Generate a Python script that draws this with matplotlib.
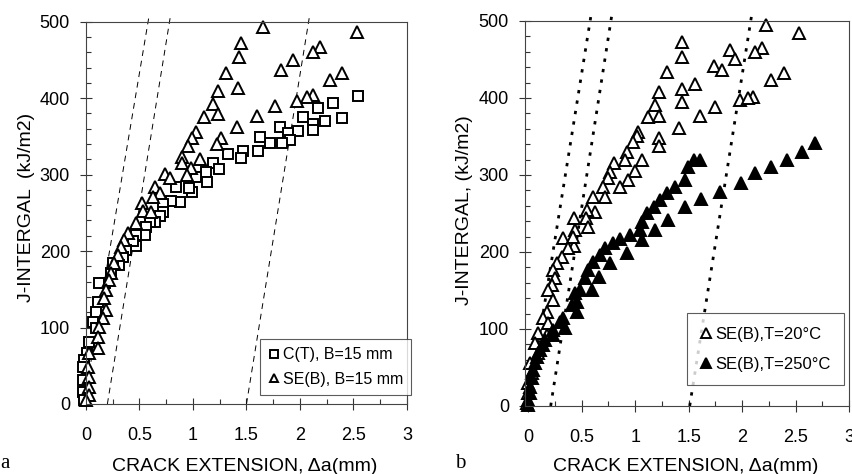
import matplotlib
matplotlib.use("Agg")
import matplotlib.pyplot as plt

plt.rcParams['font.family'] = ['Liberation Sans', 'DejaVu Sans']

# ---- panel a data: C(T) and SE(B), B=15 mm ----
ct_da = [2.547, 2.3125, 2.172, 2.39, 2.031, 2.234, 2.119, 2.119, 1.978, 1.8125,
         1.89, 1.906, 1.828, 1.719, 1.625, 1.609, 1.469, 1.453, 1.328, 1.1875,
         1.244, 1.125, 1.131, 1.031, 0.994, 0.9625, 0.875, 0.797, 0.844, 0.719,
         0.719, 0.6875, 0.644, 0.6, 0.5625, 0.547, 0.469, 0.469, 0.4375, 0.375,
         0.344, 0.3125, 0.25, 0.234, 0.181, 0.125, 0.109, 0.094, 0.0625, 0.094,
         0.031, 0.006, -0.016, -0.031, -0.031, -0.031, -0.016]
ct_j = [402.8, 393.2, 386.6, 373.6, 375.7, 370.5, 366.2, 358.3, 357.4, 362.7,
        354.0, 345.2, 340.9, 340.9, 348.7, 331.3, 331.3, 321.3, 326.9, 314.7,
        306.9, 303.8, 290.7, 297.3, 277.7, 282.0, 263.7, 265.5, 284.2, 261.5,
        251.5, 245.8, 238.4, 238.4, 231.9, 221.0, 221.0, 206.6, 213.6, 201.4,
        192.7, 181.8, 184.0, 170.9, 158.7, 157.8, 133.8, 120.7, 107.7, 99.0,
        81.5, 66.3, 57.5, 48.8, 31.4, 16.1, 5.2]

seb_da = [1.656, 1.447, 1.431, 1.306, 1.425, 1.234, 1.1875, 1.234, 1.1, 1.025,
          0.994, 0.956, 0.9, 0.894, 0.7375, 0.781, 0.644, 0.6875, 0.631, 0.525,
          0.531, 0.609, 0.469, 0.394,
          2.531, 2.1875, 2.125, 1.9375, 1.822, 2.39, 2.281, 2.119, 2.069, 1.975,
          1.766, 1.603, 1.416, 1.266, 1.228, 1.0625, 0.984, 0.947,
          0.359, 0.328, 0.297, 0.266, 0.234, 0.219, 0.1875, 0.172, 0.1875, 0.156,
          0.125, 0.109, 0.116, 0.031, 0.016, 0.031, 0.031, 0.031, 0.0]
seb_j = [493.5, 472.5, 453.3, 432.4, 412.8, 409.7, 392.3, 379.2, 375.7, 356.1,
         347.4, 337.4, 322.6, 314.7, 300.8, 295.1, 283.3, 275.5, 271.1, 262.4,
         252.8, 251.5, 237.1, 223.2,
         486.9, 467.3, 459.9, 449.8, 436.8, 433.3, 423.7, 403.6, 401.0, 396.2,
         389.7, 376.6, 361.8, 347.4, 340.0, 320.0, 308.2, 299.5,
         214.5, 205.7, 194.8, 184.0, 170.9, 162.2, 149.1, 138.2, 122.9, 112.0,
         101.1, 88.1, 72.8, 66.3, 48.8, 35.7, 22.7, 11.8, 5.2]

# ---- panel b data: SE(B) at T=20 and T=250 C ----
t20_da = [2.225, 2.531, 1.4375, 1.4375, 2.1875, 2.125, 1.89, 1.9375, 1.734, 1.8125,
          1.297, 2.39, 2.275, 1.5625, 1.4375, 1.219, 1.4375, 1.1875, 1.984, 2.103,
          2.06, 1.75, 1.603, 1.219, 1.119, 1.406, 1.031, 1.016, 0.984, 1.219,
          1.219, 0.922, 0.906, 0.803, 1.0625, 1.0, 0.766, 0.75, 0.9375, 0.859,
          0.697, 0.719, 0.609, 0.625, 0.547, 0.541, 0.556, 0.428, 0.4375, 0.328,
          0.428, 0.416, 0.375, 0.3125, 0.266, 0.234, 0.25, 0.219, 0.1875, 0.234,
          0.172, 0.14, 0.1875, 0.094, 0.172, 0.0625, 0.094, 0.016, 0.031, 0.0,
          0.0, -0.016]
t20_j = [494.8, 484.8, 473.0, 452.8, 465.4, 460.2, 462.3, 450.2, 441.6, 436.4,
         434.2, 432.9, 423.4, 417.7, 411.3, 408.2, 395.2, 390.9, 397.4, 401.7,
         399.6, 387.9, 376.6, 376.6, 374.9, 360.6, 356.3, 350.6, 343.3, 347.6,
         337.7, 330.3, 319.5, 315.2, 319.5, 305.6, 304.3, 295.7, 293.5, 284.9,
         284.9, 271.9, 271.9, 252.4, 254.5, 243.7, 232.9, 243.7, 228.6, 217.7,
         207.8, 219.9, 204.8, 193.9, 185.3, 176.6, 165.8, 157.1, 150.6, 137.7,
         122.5, 113.9, 107.4, 94.4, 92.2, 81.4, 68.4, 55.4, 42.4, 29.4,
         16.5, 3.5]

t250_da = [2.678, 2.5625, 2.422, 2.266, 2.125, 1.99, 1.797, 1.619, 1.609, 1.547,
           1.494, 1.4625, 1.469, 1.375, 1.297, 1.303, 1.234, 1.172, 1.1875, 1.109,
           1.0625, 1.047, 1.0625, 0.953, 0.922, 0.859, 0.79, 0.766, 0.719, 0.672,
           0.666, 0.609, 0.5625, 0.594, 0.531, 0.484, 0.453, 0.4375, 0.406, 0.453,
           0.328, 0.297, 0.344, 0.234, 0.234, 0.156, 0.14, 0.109, 0.078, 0.0625,
           0.047, 0.031, 0.016, 0.016, 0.0, 0.0]
t250_j = [341.1, 330.3, 319.5, 310.8, 302.2, 289.2, 278.4, 268.8, 319.5, 319.5,
          310.8, 293.5, 258.9, 284.9, 277.1, 241.6, 267.5, 258.9, 228.6, 250.2,
          239.4, 228.6, 215.6, 222.1, 198.3, 216.5, 211.3, 185.3, 204.8, 196.1,
          168.0, 187.4, 176.6, 150.6, 165.8, 150.6, 135.5, 146.3, 131.2, 122.5,
          113.9, 109.5, 100.9, 98.7, 92.2, 85.7, 79.2, 72.7, 64.1, 55.4,
          46.8, 35.9, 25.1, 16.5, 7.8, 1.3]

# construction lines (blunting line and exclusion lines)
line_j = [0, 508]
a_lines_da = [[-0.02, 0.59], [0.2, 0.79], [1.5, 2.09]]
b_lines_da = [[0.0, 0.588], [0.21, 0.782], [1.51, 2.09]]

fig = plt.figure(figsize=(8.53, 4.74), dpi=100)
ax_a = fig.add_axes([0.1008, 0.1477, 0.3763, 0.8065])
ax_b = fig.add_axes([0.6155, 0.1435, 0.3798, 0.8122])


def style_axes(ax, xmin):
    ax.set_xlim(xmin, 3)
    ax.set_ylim(0, 500)
    ax.set_xticks([0, 0.5, 1, 1.5, 2, 2.5, 3])
    ax.set_xticklabels(['0', '0.5', '1', '1.5', '2', '2.5', '3'])
    ax.set_xticks([0.25, 0.75, 1.25, 1.75, 2.25, 2.75], minor=True)
    ax.set_yticks([0, 100, 200, 300, 400, 500])
    ax.set_yticks([v for v in range(20, 500, 20) if v % 100], minor=True)
    ax.tick_params(which='major', direction='inout', length=9, width=0.8,
                   color='#333333', labelsize=13)
    ax.tick_params(axis='x', which='major', pad=12)
    ax.tick_params(axis='y', which='major', pad=7)
    ax.tick_params(which='minor', direction='in', length=3.5, width=0.8,
                   color='#333333')
    for s in ax.spines.values():
        s.set_linewidth(0.8)
        s.set_color('#444444')


# ---- panel a ----
for xs in a_lines_da:
    ax_a.plot(xs, line_j, color='black', lw=0.7, ls=(0, (6, 5)), clip_on=False)
ax_a.plot(ct_da, ct_j, ls='none', marker='s', ms=7.6, mfc='white', mec='black',
          mew=1.4, clip_on=False, label='C(T), B=15 mm')
ax_a.plot(seb_da, seb_j, ls='none', marker='^', ms=8.5, mfc='white', mec='black',
          mew=1.4, clip_on=False, label='SE(B), B=15 mm')
style_axes(ax_a, 0)
ax_a.set_xlabel('CRACK EXTENSION, \u0394a(mm)', fontsize=14)
ax_a.xaxis.set_label_coords(0.495, -0.14)
ax_a.set_ylabel('J-INTERGAL  (kJ/m2)', fontsize=14)
ax_a.yaxis.set_label_coords(-0.16, 0.515)
leg = ax_a.legend(loc='lower left', bbox_to_anchor=(0.542, 0.0235),
                  borderaxespad=0, fontsize=11.5, handlelength=0.7,
                  handletextpad=0.25, labelspacing=0.6, fancybox=False,
                  borderpad=0.5, markerscale=0.75)
leg.get_frame().set_edgecolor('#333333')
leg.get_frame().set_linewidth(0.8)

# ---- panel b ----
for xs in b_lines_da:
    ax_b.plot(xs, line_j, color='black', lw=2.0, ls=(0, (1.2, 2.6)), clip_on=False)
ax_b.plot(t20_da, t20_j, ls='none', marker='^', ms=8.5, mfc='white', mec='black',
          mew=1.4, clip_on=False, label='SE(B),T=20\u00b0C')
ax_b.plot(t250_da, t250_j, ls='none', marker='^', ms=8.5, mfc='black', mec='black',
          mew=1.4, clip_on=False, label='SE(B),T=250\u00b0C')
style_axes(ax_b, -0.03)
ax_b.set_xlabel('CRACK EXTENSION, \u0394a(mm)', fontsize=14)
ax_b.xaxis.set_label_coords(0.496, -0.135)
ax_b.set_ylabel('J-INTERGAL, (kJ/m2)', fontsize=14)
ax_b.yaxis.set_label_coords(-0.16, 0.509)
leg = ax_b.legend(loc='lower left', bbox_to_anchor=(0.499, 0.0545),
                  borderaxespad=0, fontsize=12, handlelength=0.7,
                  handletextpad=0.2, labelspacing=0.9, fancybox=False,
                  borderpad=0.8, markerscale=0.85)
leg.get_frame().set_edgecolor('#333333')
leg.get_frame().set_linewidth(0.8)
leg.set_zorder(5)

fig.text(0.0, 0.003, 'a', family='Liberation Serif', fontsize=15, va='bottom')
fig.text(0.534, 0.003, 'b', family='Liberation Serif', fontsize=15, va='bottom')

fig.savefig('out.png', dpi=100)
